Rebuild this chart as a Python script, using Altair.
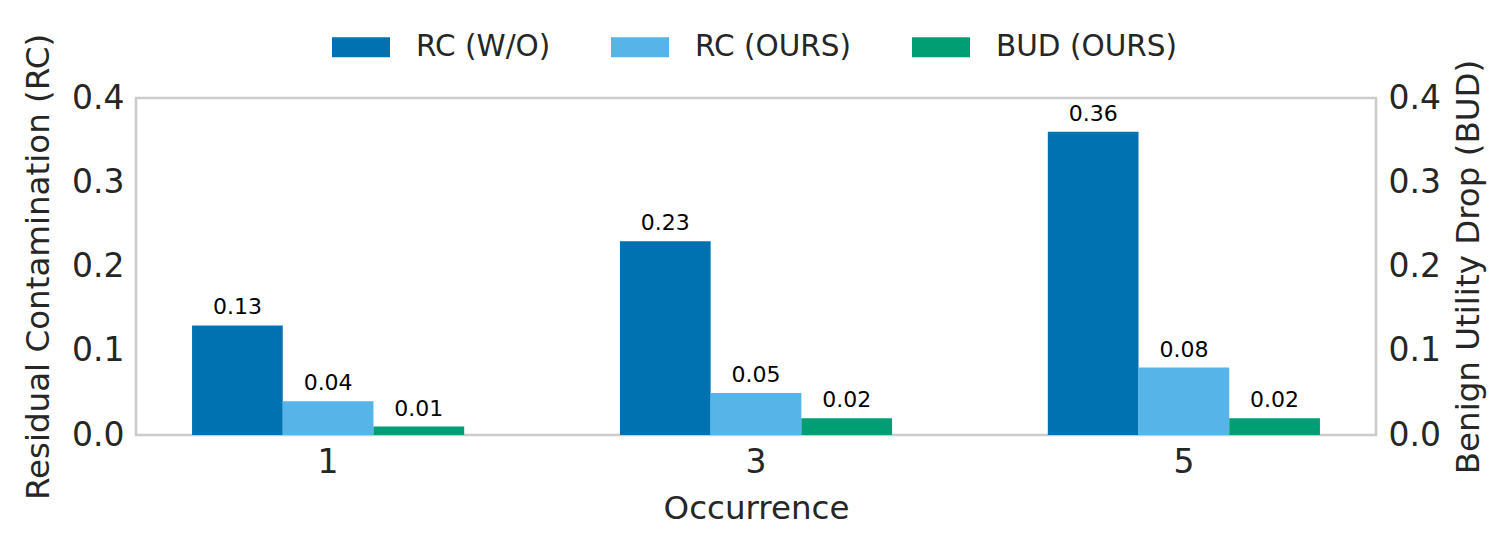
import altair as alt
import pandas as pd

occurrence = ["1", "3", "5"]
series = ["RC (W/O)", "RC (OURS)", "BUD (OURS)"]
rc_wo = [0.13, 0.23, 0.36]
rc_ours = [0.04, 0.05, 0.08]
bud = [0.01, 0.02, 0.02]
colors = ["#0072B2", "#56B4E9", "#009E73"]

rows = []
for i, occ in enumerate(occurrence):
    for s, vals in zip(series, [rc_wo, rc_ours, bud]):
        rows.append({"Occurrence": occ, "Series": s, "Value": vals[i], "Label": f"{vals[i]:.2f}"})
df = pd.DataFrame(rows)
rc_df = df[df.Series != "BUD (OURS)"]
bud_df = df[df.Series == "BUD (OURS)"]

FONT = "DejaVu Sans"
TXT = "#262626"

x = alt.X("Occurrence:N", sort=occurrence, title="Occurrence",
          scale=alt.Scale(paddingInner=0.364, paddingOuter=0.131),
          axis=alt.Axis(labelAngle=0, ticks=False, domain=False, labelFontSize=33,
                        titleFontSize=32.5, labelPadding=11, titlePadding=13,
                        labelColor=TXT, titleColor=TXT, titleFontWeight="normal",
                        labelFont=FONT, titleFont=FONT))
xoff = alt.XOffset("Series:N", sort=series,
                   scale=alt.Scale(domain=series, paddingInner=0, paddingOuter=0))
color = alt.Color("Series:N", scale=alt.Scale(domain=series, range=colors),
                  legend=alt.Legend(orient="none", legendX=196, legendY=-80,
                                    direction="horizontal", title=None,
                                    symbolType="M-1,-0.345H1V0.345H-1Z",
                                    symbolSize=3364, symbolStrokeWidth=0,
                                    symbolOpacity=1, labelFontSize=29.5,
                                    labelFont=FONT, labelColor=TXT, labelLimit=0,
                                    columnPadding=60, labelOffset=26))


def yenc(title, orient):
    if orient == "right":
        extra = {"titleAngle": 270, "titleBaseline": "top", "titlePadding": 12}
    else:
        extra = {"titlePadding": 16}
    return alt.Y("Value:Q", title=title,
                 scale=alt.Scale(domain=[0, 0.4], nice=False, zero=True),
                 axis=alt.Axis(orient=orient, values=[0, 0.1, 0.2, 0.3, 0.4],
                               format=".1f", ticks=False, domain=False, grid=False,
                               labelFontSize=33, titleFontSize=32.5, labelPadding=12,
                               labelColor=TXT, titleColor=TXT,
                               titleFontWeight="normal", labelFont=FONT,
                               titleFont=FONT, **extra))


def group(data, title, orient):
    base = alt.Chart(data).encode(x=x, xOffset=xoff, y=yenc(title, orient))
    bars = base.mark_bar().encode(color=color)
    text = base.mark_text(baseline="bottom", dy=-6, fontSize=22, font=FONT,
                          color="black").encode(text="Label:N")
    return alt.layer(bars, text)


chart = alt.layer(
    group(rc_df, "Residual Contamination (RC)", "left"),
    group(bud_df, "Benign Utility Drop (BUD)", "right"),
).resolve_scale(y="independent").properties(
    width=1240, height=337,
    padding={"left": 14, "top": 10, "right": 5, "bottom": 5},
).configure_view(stroke="#cccccc", strokeWidth=2.5)

chart.save("out.html", embed_options={"renderer": "svg", "actions": False})
